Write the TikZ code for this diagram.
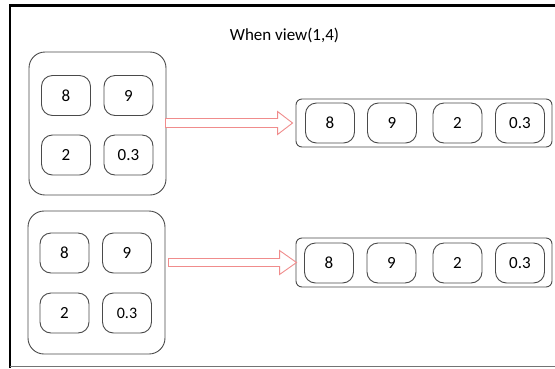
\documentclass[tikz,border=0pt]{standalone}
\usepackage{fontspec}
\setmainfont{Carlito}
\usetikzlibrary{calc}
\definecolor{boxgray}{HTML}{4A4A4A}
\definecolor{arrred}{HTML}{F08C8C}
\tikzset{
  cell/.style={draw=boxgray, line width=0.9pt, rounded corners=11pt, minimum width=49pt, minimum height=40pt, inner sep=0pt, font=\fontsize{17}{20}\selectfont, text=black},
  grp/.style={draw=boxgray, line width=0.9pt, rounded corners=16pt, minimum width=137pt, minimum height=143pt, inner sep=0pt},
  rowbox/.style={draw=boxgray, line width=0.9pt, rounded corners=6pt, minimum width=256pt, minimum height=48pt, inner sep=0pt},
  hollowarrow/.style={draw=arrred, line width=0.9pt, line join=miter, fill=white},
}
\begin{document}
\begin{tikzpicture}[x=1pt,y=-1pt]
\useasboundingbox (0,0) rectangle (555,368);
% frame
\draw[black, line width=2.6pt] (10,5.5) -- (556,5.5);
\draw[black, line width=2.6pt] (10,4.2) -- (10,368);
\draw[black!55, line width=1.6pt] (10,366.5) -- (556,366.5);
% title
\node[font=\fontsize{17}{20}\selectfont, text=black] (title) at (284.5,35) {When view(1,4)};
% group 1
\node[grp] (g1) at (97.5,123.5) {};
\node[cell] (a1) at (66,95.5) {8};
\node[cell] (a2) at (128.5,95.5) {9};
\node[cell] (a3) at (66,155) {2};
\node[cell] (a4) at (128.5,155) {0.3};
% group 2
\node[grp] (g2) at (96.5,282.5) {};
\node[cell] (b1) at (64.5,253) {8};
\node[cell] (b2) at (127,253) {9};
\node[cell] (b3) at (64.5,313) {2};
\node[cell, font=\fontsize{16}{19}\selectfont] (b4) at (127,313) {0.3};
% row 1
\node[rowbox] (r1) at (424,123) {};
\node[cell] (c1) at (330,123) {8};
\node[cell] (c2) at (392,123) {9};
\node[cell] (c3) at (457.5,123) {2};
\node[cell] (c4) at (520,123) {0.3};
% row 2
\node[rowbox, minimum height=49pt] (r2) at (424,262.5) {};
\node[cell] (d1) at (329,263) {8};
\node[cell] (d2) at (391.5,263) {9};
\node[cell] (d3) at (457.5,263) {2};
\node[cell] (d4) at (520,263) {0.3};
% arrows
\coordinate (s1) at ($(g1.east |- r1.west)+(-1,0)$);
\coordinate (t1) at ($(r1.west)+(-3,0)$);
\draw[hollowarrow] (s1) ++(0,-4.5) -- ($(t1)+(-15,-4.5)$) -- ($(t1)+(-15,-11.5)$) -- (t1)
  -- ($(t1)+(-15,11.5)$) -- ($(t1)+(-15,4.5)$) -- ($(s1)+(0,4.5)$) -- cycle;
\coordinate (s2) at ($(g2.east |- r2.west)+(3,0)$);
\coordinate (t2) at ($(r2.west)+(1,0)$);
\draw[hollowarrow] (s2) ++(0,-4) -- ($(t2)+(-17,-4)$) -- ($(t2)+(-17,-12)$) -- (t2)
  -- ($(t2)+(-17,12)$) -- ($(t2)+(-17,4)$) -- ($(s2)+(0,4)$) -- cycle;
\end{tikzpicture}
\end{document}
